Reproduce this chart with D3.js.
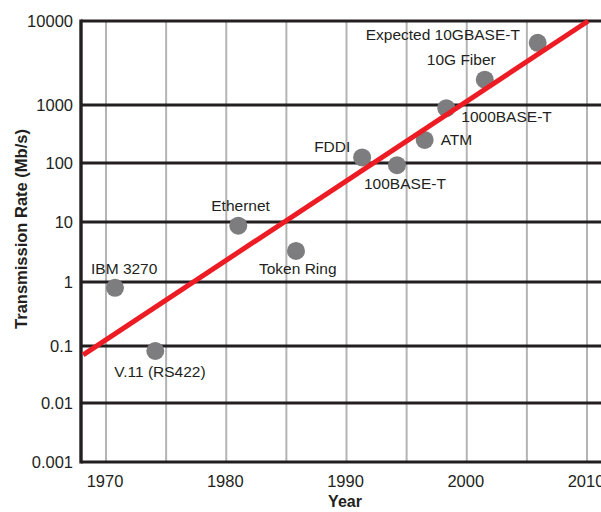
<!DOCTYPE html>
<html>
<head>
<meta charset="utf-8">
<script src="https://cdn.jsdelivr.net/npm/d3@7"></script>
<style>
  body { margin: 0; background: #fff; }
  text { font-family: "Liberation Sans", Arial, Helvetica, sans-serif; fill: #231f20; }
</style>
</head>
<body>
<div id="chart"></div>
<script>
// data
const rateTicks = [0.001, 0.01, 0.1, 1, 10, 100, 1000, 10000];
const rateLabels = ["0.001", "0.01", "0.1", "1", "10", "100", "1000", "10000"];
const yearTicks = [1970, 1980, 1990, 2000, 2010];
const gridYears = [1970, 1975, 1980, 1985, 1990, 1995, 2000, 2005, 2010];

const techNames = ["IBM 3270", "V.11 (RS422)", "Ethernet", "Token Ring", "FDDI",
                   "100BASE-T", "ATM", "1000BASE-T", "10G Fiber", "Expected 10GBASE-T"];
const techYears = [1970.75, 1974.1, 1981.0, 1985.8, 1991.3, 1994.2, 1996.5, 1998.3, 2001.5, 2005.9];
const techRates = [0.81, 0.082, 8.7, 3.3, 125, 92, 250, 880, 2000, 5500];

const trendYears = [1968.1, 2010.1];
const trendRates = [0.07, 10000];

// label placement relative to each dot (layout, not data)
const labelOffsets = [[-24, -14], [-41, 26], [-27, -15], [-37, 23], [-48, -5],
                      [-33, 24], [16, 5], [15, 14], [-58, -15], [-172, -3]];

const FRAME_WIDTH = 601;
const FRAME_HEIGHT = 512;
const LEFT = 81, RIGHT = 601, TOP = 21, BOTTOM = 462;

const svg = d3.select("#chart")
    .append("svg")
    .attr("width", FRAME_WIDTH)
    .attr("height", FRAME_HEIGHT);

// x is a plain linear year scale
const X_SCALE = d3.scaleLinear()
    .domain([1970, 2010])
    .range([106, 587]);

// the original figure spaces its decades unevenly, so map log10 piecewise
const LOG_POS = d3.scaleLinear()
    .domain([-3, -2, -1, 0, 1, 2, 3, 4])
    .range([462, 403, 346, 282, 222, 163, 105, 21]);
const Y_SCALE = (v) => LOG_POS(Math.log10(v));

// vertical gray grid
svg.selectAll(".vgrid")
    .data(gridYears)
    .enter()
    .append("line")
    .attr("x1", d => X_SCALE(d))
    .attr("x2", d => X_SCALE(d))
    .attr("y1", TOP)
    .attr("y2", BOTTOM)
    .attr("stroke", "#b4b4b4")
    .attr("stroke-width", 2);

// horizontal black grid
svg.selectAll(".hgrid")
    .data(rateTicks)
    .enter()
    .append("line")
    .attr("x1", LEFT)
    .attr("x2", RIGHT)
    .attr("y1", d => Y_SCALE(d))
    .attr("y2", d => Y_SCALE(d))
    .attr("stroke", "#231f20")
    .attr("stroke-width", 3.2);

// left axis line
svg.append("line")
    .attr("x1", LEFT)
    .attr("x2", LEFT)
    .attr("y1", TOP - 1.6)
    .attr("y2", BOTTOM + 1.6)
    .attr("stroke", "#231f20")
    .attr("stroke-width", 3.4);

// y tick labels
svg.selectAll(".ylab")
    .data(rateTicks)
    .enter()
    .append("text")
    .attr("x", 73)
    .attr("y", d => Y_SCALE(d))
    .attr("dy", "0.36em")
    .attr("text-anchor", "end")
    .attr("font-size", "16.5px")
    .text((d, i) => rateLabels[i]);

// x tick labels
svg.selectAll(".xlab")
    .data(yearTicks)
    .enter()
    .append("text")
    .attr("x", d => X_SCALE(d) - 1)
    .attr("y", 487)
    .attr("text-anchor", "middle")
    .attr("font-size", "16.5px")
    .text(d => d);

// axis titles
svg.append("text")
    .attr("x", 345)
    .attr("y", 507)
    .attr("text-anchor", "middle")
    .attr("font-size", "16px")
    .attr("font-weight", "bold")
    .text("Year");

svg.append("text")
    .attr("transform", "translate(27,229) rotate(-90)")
    .attr("text-anchor", "middle")
    .attr("font-size", "16.5px")
    .attr("font-weight", "bold")
    .text("Transmission Rate (Mb/s)");

// dots
const points = techNames.map((name, i) => ({ name: name, year: techYears[i], rate: techRates[i], off: labelOffsets[i] }));

svg.selectAll(".dot")
    .data(points)
    .enter()
    .append("circle")
    .attr("cx", d => X_SCALE(d.year))
    .attr("cy", d => Y_SCALE(d.rate))
    .attr("r", 9)
    .attr("fill", "#7d7d7f");

// red trend line on top of the dots
const trend = trendYears.map((yr, i) => [yr, trendRates[i]]);
svg.append("path")
    .datum(trend)
    .attr("d", d3.line().x(d => X_SCALE(d[0])).y(d => Y_SCALE(d[1])))
    .attr("fill", "none")
    .attr("stroke", "#ed1c24")
    .attr("stroke-width", 5);

// dot labels
svg.selectAll(".tlab")
    .data(points)
    .enter()
    .append("text")
    .attr("x", d => X_SCALE(d.year) + d.off[0])
    .attr("y", d => Y_SCALE(d.rate) + d.off[1])
    .attr("font-size", "15.5px")
    .text(d => d.name);
</script>
</body>
</html>
